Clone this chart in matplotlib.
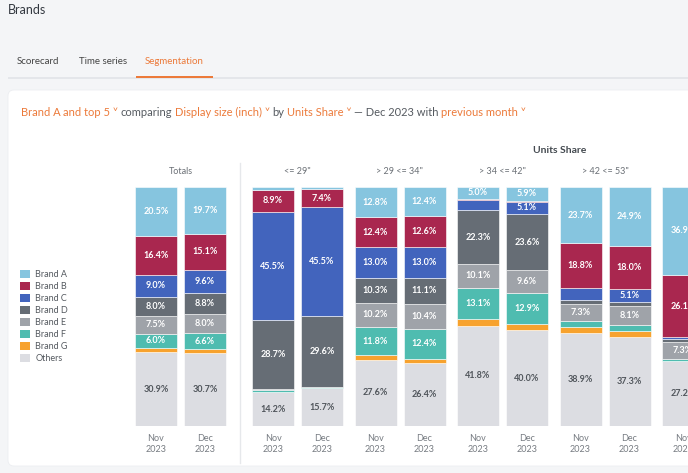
import matplotlib
matplotlib.use("Agg")

import matplotlib.pyplot as plt
from matplotlib.patches import FancyBboxPatch, Rectangle, Patch

plt.rcParams['font.family'] = ['Lato', 'DejaVu Sans']

# data: one value per bar, bars ordered Totals Nov/Dec then each size segment Nov/Dec
segments = ['<= 29"', '> 29 <= 34"', '> 34 <= 42"', '> 42 <= 53"', '> 53"']
months = ['Nov\n2023', 'Dec\n2023']
brands = ['Brand A', 'Brand B', 'Brand C', 'Brand D', 'Brand E', 'Brand F', 'Brand G', 'Others']

brand_a = [20.5, 19.7, 1.5, 1.1, 12.8, 12.4, 5.0, 5.9, 23.7, 24.9, 36.9]
brand_b = [16.4, 15.1, 8.9, 7.4, 12.4, 12.6, 0.4, 0.4, 18.8, 18.0, 26.1]
brand_c = [9.0, 9.6, 45.5, 45.5, 13.0, 13.0, 4.5, 5.1, 4.8, 5.1, 0.8]
brand_d = [8.0, 8.8, 28.7, 29.6, 10.3, 11.1, 22.3, 23.6, 1.7, 1.8, 1.0]
brand_e = [7.5, 8.0, 0.2, 0.1, 10.2, 10.4, 10.1, 9.6, 7.3, 8.1, 7.3]
brand_f = [6.0, 6.6, 1.0, 0.6, 11.8, 12.4, 13.1, 12.9, 2.4, 2.3, 0.7]
brand_g = [1.7, 1.5, 0.0, 0.0, 1.9, 1.7, 2.8, 2.5, 2.4, 2.5, 0.0]
others = [30.9, 30.7, 14.2, 15.7, 27.6, 26.4, 41.8, 40.0, 38.9, 37.3, 27.2]

colors = ['#86c5df', '#a9274f', '#4264bd', '#666d75', '#9fa3a9', '#4fbcb0', '#f7a22e', '#dcdde2']
ORANGE = '#ec7a3a'
GREY_TXT = '#555a60'

W, H = 688, 473
fig = plt.figure(figsize=(W / 100, H / 100), dpi=100)
fig.patch.set_facecolor('#f4f5f7')

# background axes in pixel coordinates
bg = fig.add_axes([0, 0, 1, 1])
bg.set_xlim(0, W)
bg.set_ylim(H, 0)
bg.axis('off')

bg.text(8, 10, 'Brands', fontsize=9, color='#333840', va='center', ha='left')
bg.add_patch(Rectangle((8, 77), W, 2, color='#e4e6ea', lw=0))
bg.add_patch(Rectangle((136, 76), 77, 2.2, color=ORANGE, lw=0))
bg.text(17, 62, 'Scorecard', fontsize=7, color='#444', va='center')
bg.text(79, 62, 'Time series', fontsize=7, color='#444', va='center')
bg.text(145, 62, 'Segmentation', fontsize=7, color=ORANGE, va='center')

card = FancyBboxPatch((8, 90), 720, 376, boxstyle='round,pad=0,rounding_size=6',
                      fc='white', ec='#eceef1', lw=0.6)
bg.add_patch(card)

# query sentence, chained piece by piece
pieces = [('Brand A', ORANGE), ('and top 5 \u02c5', ORANGE), ('comparing', GREY_TXT),
          ('Display size (inch) \u02c5', ORANGE), ('by', GREY_TXT), ('Units Share \u02c5', ORANGE),
          ('\u2014 Dec 2023 with', GREY_TXT), ('previous month \u02c5', ORANGE)]
renderer = fig.canvas.get_renderer()
xpos = 21
for txt, col in pieces:
    t = bg.text(xpos, 112, txt, fontsize=8, color=col, va='center', ha='left')
    bb = t.get_window_extent(renderer)
    xpos += bb.width + 2.5

# separator between totals and segments
bg.plot([240, 240], [163, 463], color='#e6e8eb', lw=1)

bg.text(560, 150, 'Units Share', fontsize=7.5, fontweight='bold', color='#444a50', ha='center', va='center')

# bars axes
bar_top, bar_bot = 186.7, 426
ax = fig.add_axes([0, 1 - bar_bot / H, 1, (bar_bot - bar_top) / H])
ax.set_xlim(0, W)
ax.set_ylim(0, 100)
ax.patch.set_alpha(0)
for s in ax.spines.values():
    s.set_visible(False)
ax.set_yticks([])

bar_w = 42
xs = [156, 205]
for k in range(len(segments)):
    xs += [273 + 102.5 * k, 273 + 102.5 * k + 49]
xs = xs[:len(others)]

series = [brand_a, brand_b, brand_c, brand_d, brand_e, brand_f, brand_g, others]
bottoms = [0.0] * len(others)
for i in range(len(series) - 1, -1, -1):
    vals = series[i]
    ax.bar(xs, vals, width=bar_w, bottom=bottoms, color=colors[i], edgecolor='white', linewidth=0.4)
    for x, v, b in zip(xs, vals, bottoms):
        if v >= 5.0:
            tc = '#50555b' if brands[i] == 'Others' else 'white'
            ax.text(x, b + v / 2, f'{v:.1f}%', ha='center', va='center', fontsize=6.5,
                    fontweight='bold', color=tc)
    bottoms = [b + v for b, v in zip(bottoms, vals)]

ax.set_xticks(xs)
ax.set_xticklabels([months[j % 2] for j in range(len(xs))], fontsize=6.5, color='#777c82', linespacing=1.3)
ax.tick_params(axis='x', length=0, pad=6)

# group titles
ax.text((xs[0] + xs[1]) / 2, 106.5, 'Totals', ha='center', va='center', fontsize=6.5, color='#6b7076')
for k, name in enumerate(segments):
    cx = 273 + 102.5 * k + 24.5
    ax.text(cx, 106.5, name, ha='center', va='center', fontsize=6.5, color='#6b7076', clip_on=False)

handles = [Patch(facecolor=c, edgecolor='none') for c in colors]
fig.legend(handles, brands, loc='upper left', bbox_to_anchor=(12 / W, 1 - 262 / H), frameon=False,
           fontsize=6.5, handlelength=1.1, handleheight=0.9, handletextpad=0.6, labelspacing=0.33,
           labelcolor='#555a60')

fig.savefig('out.png', dpi=100)
